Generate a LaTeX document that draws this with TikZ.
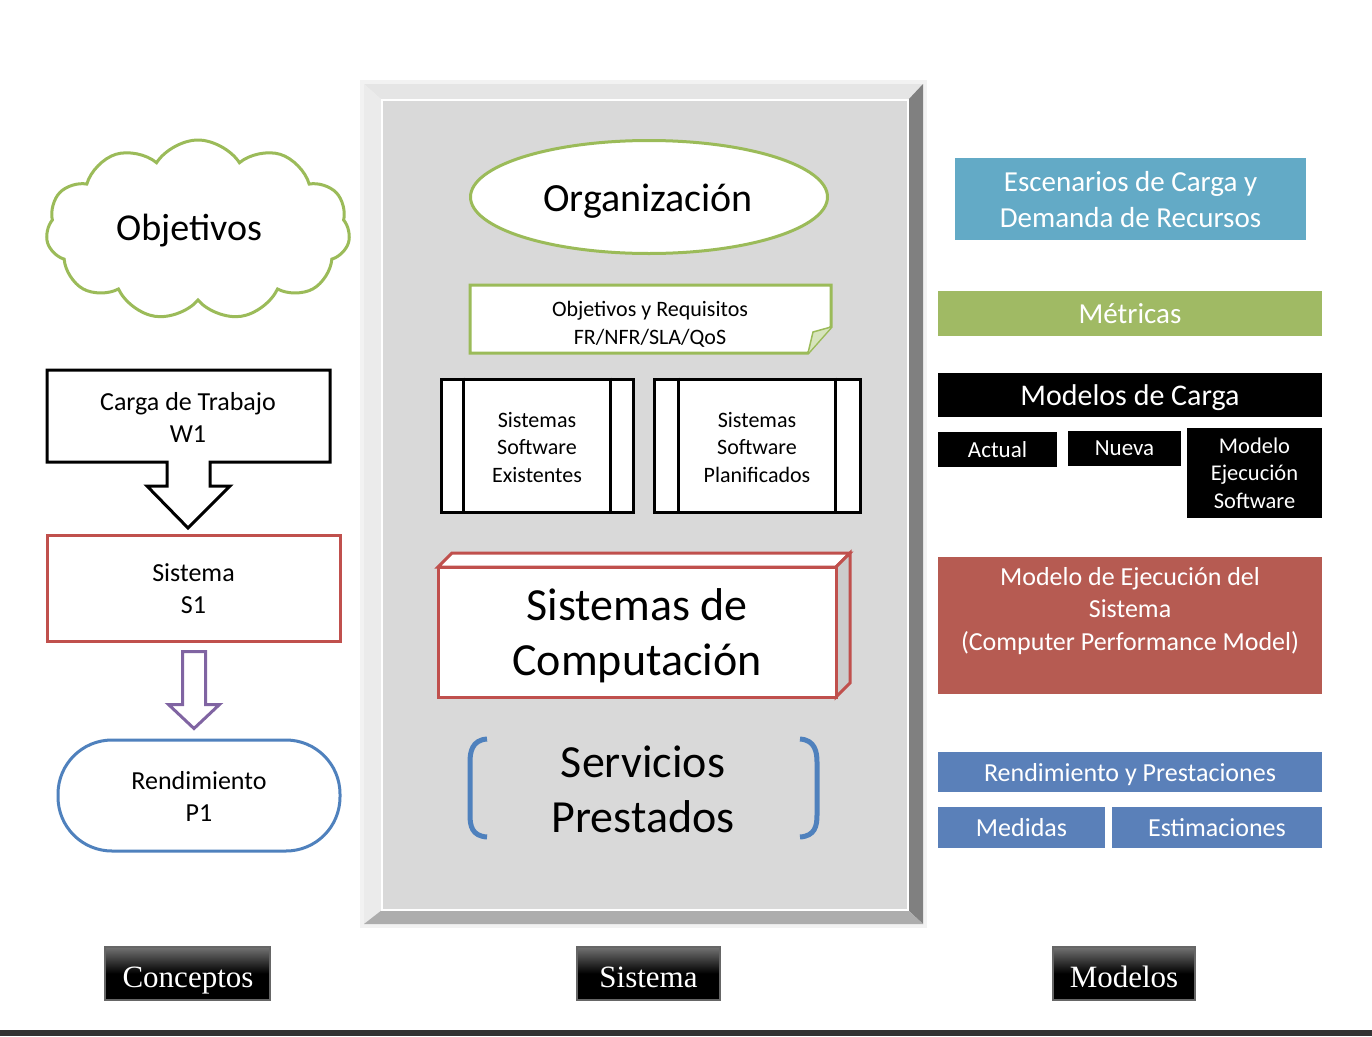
\documentclass[tikz,border=0pt]{standalone}
\usepackage{fontspec}
\setmainfont{Carlito}
\newfontfamily\btnfont{Liberation Serif}
\usetikzlibrary{shapes.symbols,shapes.geometric,calc}
\definecolor{cgreen}{HTML}{9BBB59}
\definecolor{cred}{HTML}{C0504D}
\definecolor{cblue}{HTML}{4F81BD}
\definecolor{cpurple}{HTML}{8064A2}
\definecolor{faqua}{HTML}{63AAC6}
\definecolor{fgreen}{HTML}{A0BA64}
\definecolor{fred}{HTML}{B65B52}
\definecolor{fblue}{HTML}{5A80B9}
\definecolor{panel}{HTML}{D9D9D9}
\tikzset{
  fs/.style n args={2}{font=\fontsize{#1}{#2}\selectfont},
  txt/.style={align=center, inner sep=0pt, text depth=0pt},
  colbox/.style={fill=#1, text=white, inner sep=0pt, align=center, text depth=0pt},
  btn/.style={draw=black!60, line width=1.2pt, top color=black!55, bottom color=black, middle color=black, inner sep=0pt, minimum height=53},
  btntext/.style={text=white, font=\btnfont\fontsize{31}{36}\selectfont, inner sep=0pt, text depth=0pt},
}
\begin{document}
\begin{tikzpicture}[x=1pt,y=-1pt]
\useasboundingbox (0,0) rectangle (1372,1036);
\fill[white] (0,0) rectangle (1372,1036);
\fill[black!80] (0,1030) rectangle (1372,1036);

% ---------- left column ----------
\node[cloud, cloud puffs=11, cloud puff arc=115, aspect=1.75, draw=cgreen, line width=3pt, fill=white, minimum width=304, minimum height=180] (cloud) at (198,230) {};
\node[txt, fs={38}{46}] (obj) at (189,227) {Objetivos};

\draw[line width=3pt, fill=white, line join=miter] (47,370) -- (330,370) -- (330,462) -- (210,462) -- (210,486) -- (230,486) -- (188,528) -- (147,486) -- (167,486) -- (167,462) -- (47,462) -- cycle;
\node[txt, fs={26}{32}] (carga) at (188,417) {Carga de Trabajo\\W1};

\node[draw=cred, line width=3pt, fill=white, minimum width=293, minimum height=106, inner sep=0pt] (sis) at (193.5,588) {};
\node[txt, fs={26}{32}] (sistxt) at (193.5,589) {Sistema\\S1};

\draw[cpurple, line width=3pt, fill=white, line join=miter] ($(sis.south)+(-11,9)$) -- ++(23,0) -- ++(0,53) -- ++(14,0) -- ($(sis.south)+(0.5,86)$) -- ($(sis.south)+(-25,62)$) -- ++(14,0) -- cycle;

\node[draw=cblue, line width=3pt, fill=white, rounded corners=54, minimum width=282, minimum height=111, inner sep=0pt] (rend) at (199,795.5) {};
\node[txt, fs={26}{32}] (rendtxt) at (199,796) {Rendimiento\\P1};

% ---------- central panel ----------
\fill[black!5] (360,80) rectangle (927,928);
\fill[black!10] (364,84) -- (923,84) -- (908,100) -- (382,100) -- cycle;
\fill[black!8] (364,84) -- (382,100) -- (382,910) -- (364,924) -- cycle;
\fill[black!50] (923,84) -- (923,924) -- (908,910) -- (908,100) -- cycle;
\fill[black!32] (364,924) -- (923,924) -- (908,910) -- (382,910) -- cycle;
\draw[white, line width=1.5pt, fill=panel] (382,100) rectangle (908,910);

\node[ellipse, draw=cgreen, line width=3pt, fill=white, minimum width=357, minimum height=113, inner sep=0pt] (org) at (649,197) {};
\node[txt, fs={40}{48}] (orgtxt) at (648,198) {Organización};

\draw[cgreen, line width=3pt, fill=white, line join=miter] (470,285) -- (831,285) -- (831,327) -- (808,353) -- (470,353) -- cycle;
\draw[cgreen, line width=1.5pt, fill=cgreen!40] (831,327) -- (813,332) -- (808,353);
\node[txt, fs={22}{28}] (req) at (650,322.5) {Objetivos y Requisitos\\FR/NFR/SLA/QoS};

\node[draw, line width=3pt, fill=white, minimum width=192, minimum height=133, inner sep=0pt] (exist) at (537,445.5) {};
\draw[line width=3pt] ($(exist.north west)+(24,0)$) -- ($(exist.south west)+(24,0)$);
\draw[line width=3pt] ($(exist.north east)+(-24,0)$) -- ($(exist.south east)+(-24,0)$);
\node[txt, fs={22}{27.5}] (existtxt) at (537,447) {Sistemas\\Software\\Existentes};

\node[draw, line width=3pt, fill=white, minimum width=206, minimum height=133, inner sep=0pt] (plan) at (757,445.5) {};
\draw[line width=3pt] ($(plan.north west)+(26,0)$) -- ($(plan.south west)+(26,0)$);
\draw[line width=3pt] ($(plan.north east)+(-26,0)$) -- ($(plan.south east)+(-26,0)$);
\node[txt, fs={22}{27.5}] (plantxt) at (757,447) {Sistemas\\Software\\Planificados};

\draw[cred, line width=3pt, fill=white, line join=miter] (438,567) -- (452,553) -- (850,553) -- (836,567) -- cycle;
\draw[cred, line width=3pt, fill=black!20, line join=miter] (836,567) -- (850,553) -- (850,683) -- (836,697) -- cycle;
\node[draw=cred, line width=3pt, fill=white, minimum width=398, minimum height=130, inner sep=0pt] (comp) at (637,632) {};
\node[txt, fs={46}{55}] (comptxt) at (637,632) {Sistemas de\\Computación};

\node[txt, fs={46}{55}] (serv) at (643,789) {Servicios\\Prestados};
\draw[cblue, line width=5pt, line cap=butt] (487,739) .. controls (472,740) and (470,752) .. (470,762) -- (470,815) .. controls (470,826) and (472,836) .. (487,837);
\draw[cblue, line width=5pt, line cap=butt] (800,739) .. controls (815,740) and (817,752) .. (817,762) -- (817,815) .. controls (817,826) and (815,836) .. (800,837);

% ---------- right column ----------
\node[colbox=faqua, minimum width=351, minimum height=82, fs={29}{36}] (esc) at (1130.5,199) {Escenarios de Carga y\\Demanda de Recursos};
\node[colbox=fgreen, minimum width=384, minimum height=45, fs={29}{36}] (met) at (1130,313.5) {Métricas};
\node[colbox=black, minimum width=384, minimum height=44, fs={30}{36}] (mc) at (1130,395) {Modelos de Carga};
\node[colbox=black, minimum width=119, minimum height=35, fs={23}{28}] (act) at (997.5,449.5) {Actual};
\node[colbox=black, minimum width=135, minimum height=90, fs={22.5}{27.5}] (mes) at (1254.5,473) {Modelo\\Ejecución\\Software};
\node[colbox=black, minimum width=113, minimum height=35, fs={23}{28}] (nue) at (1124.5,448.5) {Nueva};
\node[colbox=fred, minimum width=384, minimum height=137, anchor=north] (mejs) at (1130,557) {};
\node[txt, text=white, fs={26}{32.5}, anchor=north] (mejstxt) at (1130,567) {Modelo de Ejecución del\\Sistema\\(Computer Performance Model)};
\node[colbox=fblue, minimum width=384, minimum height=40, fs={26}{32}] (rp) at (1130,772) {Rendimiento y Prestaciones};
\node[colbox=fblue, minimum width=167, minimum height=41, fs={26}{32}] (med) at (1021.5,827.5) {Medidas};
\node[colbox=fblue, minimum width=210, minimum height=41, fs={26}{32}] (est) at (1217,827.5) {Estimaciones};

% ---------- buttons ----------
\node[btn, minimum width=165] (b1) at (187.5,973.5) {};
\node[btntext] (b1t) at (188,977) {Conceptos};
\node[btn, minimum width=143] (b2) at (648.5,973.5) {};
\node[btntext] (b2t) at (648.5,977) {Sistema};
\node[btn, minimum width=142] (b3) at (1124,973.5) {};
\node[btntext] (b3t) at (1124,977) {Modelos};
\end{tikzpicture}
\end{document}
